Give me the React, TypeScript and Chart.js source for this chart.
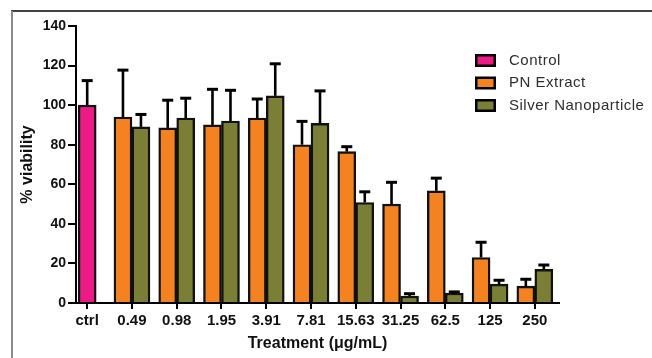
import React, { useEffect, useRef } from "react";
import { Chart, registerables } from "chart.js";

Chart.register(...registerables);

const categories = ["ctrl", "0.49", "0.98", "1.95", "3.91", "7.81", "15.63", "31.25", "62.5", "125", "250"];
const controlValues = [100, null, null, null, null, null, null, null, null, null, null];
const controlErrors = [12.4, null, null, null, null, null, null, null, null, null, null];
const pnExtractValues = [null, 94, 88.5, 90, 93.5, 80, 76.5, 50, 56.7, 23, 8.5];
const pnExtractErrors = [null, 23.7, 14, 18, 9.6, 11.8, 2.5, 11, 6.4, 7.7, 3.5];
const silverValues = [null, 89, 93.5, 92, 104.7, 90.8, 50.8, 3.5, 5, 9.5, 17];
const silverErrors = [null, 6.3, 10, 15.5, 16.2, 16.4, 5.4, 1.2, 0.6, 2, 2.2];
const yTicks = [0, 20, 40, 60, 80, 100, 120, 140];

const seriesNames = ["Control", "PN Extract", "Silver Nanoparticle"];
const seriesColors = ["#EC1A84", "#F58220", "#7B7F35"];
const seriesErrors = [controlErrors, pnExtractErrors, silverErrors];

const FONT = "'Liberation Sans', Arial, sans-serif";

const errorBarPlugin = {
  id: "errorBars",
  afterDatasetsDraw(chart: any) {
    const ctx = chart.ctx;
    const yScale = chart.scales.y;
    ctx.save();
    ctx.strokeStyle = "#000";
    chart.data.datasets.forEach((ds: any, di: number) => {
      const meta = chart.getDatasetMeta(di);
      const errs = seriesErrors[di];
      meta.data.forEach((bar: any, i: number) => {
        const v = ds.data[i];
        const e = errs[i];
        if (v == null || e == null) return;
        const yTop = yScale.getPixelForValue(v + e);
        const x = bar.x;
        ctx.lineWidth = 2.6;
        ctx.beginPath();
        ctx.moveTo(x, bar.y);
        ctx.lineTo(x, yTop);
        ctx.stroke();
        ctx.lineWidth = 3;
        ctx.beginPath();
        ctx.moveTo(x - 5.5, yTop);
        ctx.lineTo(x + 5.5, yTop);
        ctx.stroke();
      });
    });
    ctx.restore();
  },
};

const legendPlugin = {
  id: "boxLegend",
  afterDraw(chart: any) {
    const ctx = chart.ctx;
    ctx.save();
    const bx = 475;
    const rows = [60.5, 83, 105.5];
    seriesNames.forEach((name, i) => {
      const cy = rows[i];
      ctx.fillStyle = "#000";
      ctx.fillRect(bx, cy - 6.5, 21, 13);
      ctx.fillStyle = seriesColors[i];
      ctx.fillRect(bx + 2.5, cy - 4, 16, 8);
      ctx.fillStyle = "#2f2f2f";
      ctx.font = `15px ${FONT}`;
      (ctx as any).letterSpacing = "0.5px";
      ctx.textAlign = "left";
      ctx.textBaseline = "middle";
      ctx.fillText(name, 509, cy);
    });
    ctx.restore();
  },
};

export default function App() {
  const canvasRef = useRef<HTMLCanvasElement | null>(null);

  useEffect(() => {
    if (!canvasRef.current) return;
    const datasets = [controlValues, pnExtractValues, silverValues].map((vals, i) => ({
      label: seriesNames[i],
      data: vals,
      backgroundColor: seriesColors[i],
      borderColor: "#111",
      borderWidth: 2.4,
      barThickness: 18,
      skipNull: true,
    }));
    const chart = new Chart(canvasRef.current, {
      type: "bar",
      data: {
        labels: categories.map((_, i) => i),
        datasets,
      },
      options: {
        responsive: false,
        maintainAspectRatio: false,
        devicePixelRatio: 1,
        animation: false,
        layout: { padding: { left: 0, top: 26, right: 93, bottom: 0 } },
        plugins: {
          legend: { display: false },
          tooltip: { enabled: false },
        },
        scales: {
          x: {
            type: "linear",
            offset: false,
            min: -0.25,
            max: 10.54,
            afterFit: (s: any) => {
              s.height = 55;
            },
            afterBuildTicks: (s: any) => {
              s.ticks = categories.map((_, i) => ({ value: i }));
            },
            ticks: {
              autoSkip: false,
              maxRotation: 0,
              padding: 3,
              color: "#111",
              font: { family: FONT, size: 15, weight: "bold" },
              callback: (v: any) => categories[v],
            },
            grid: {
              display: true,
              offset: false,
              drawOnChartArea: false,
              drawTicks: true,
              tickLength: 6,
              color: "#000",
              lineWidth: 2,
            },
            border: { display: true, color: "#000", width: 2 },
            title: {
              display: true,
              text: "Treatment (μg/mL)",
              color: "#111",
              font: { family: FONT, size: 16, weight: "bold" },
              padding: { top: 0, bottom: 4.4 },
            },
          },
          y: {
            type: "linear",
            min: 0,
            max: 140,
            afterFit: (s: any) => {
              s.width = 76;
            },
            afterBuildTicks: (s: any) => {
              s.ticks = yTicks.map((v) => ({ value: v }));
            },
            ticks: {
              padding: 2,
              color: "#111",
              font: { family: FONT, size: 14, weight: "bold" },
            },
            grid: {
              display: true,
              drawOnChartArea: false,
              drawTicks: true,
              tickLength: 8,
              color: "#000",
              lineWidth: 2,
            },
            border: { display: true, color: "#000", width: 2 },
            title: {
              display: true,
              text: "% viability",
              color: "#111",
              font: { family: FONT, size: 16, weight: "bold" },
              padding: { top: 18.4, bottom: 0 },
            },
          },
        },
      } as any,
      plugins: [errorBarPlugin, legendPlugin],
    });
    return () => chart.destroy();
  }, []);

  return (
    <div style={{ position: "fixed", left: 0, top: 0, width: 652, height: 358, background: "#fff", overflow: "hidden" }}>
      <canvas ref={canvasRef} width={652} height={358} style={{ display: "block", position: "absolute", left: 0, top: 0 }} />
      <div style={{ position: "absolute", left: 11, top: 10, width: 641, height: 2, background: "#444" }} />
      <div style={{ position: "absolute", left: 11, top: 11, width: 2, height: 347, background: "#8a8a8a" }} />
    </div>
  );
}
